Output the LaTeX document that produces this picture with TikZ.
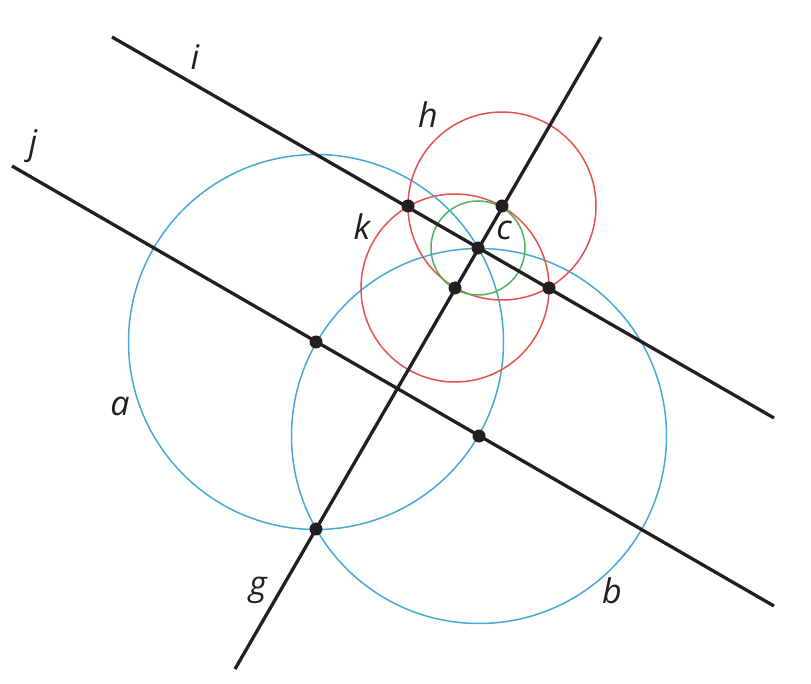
\documentclass[tikz,border=0pt]{standalone}
\usepackage{fontspec}
\setmainfont{Open Sans}
\usetikzlibrary{positioning}

\definecolor{ink}{HTML}{231F20}
\definecolor{skyblue}{HTML}{45A9D6}
\definecolor{redline}{HTML}{E8504A}
\definecolor{greenline}{HTML}{4DB45A}

\begin{document}
\begin{tikzpicture}[x=1pt,y=-1pt]
\tikzstyle{thickline}=[draw=ink,line width=3.3pt]
\tikzstyle{bluecircle}=[draw=skyblue,line width=1.5pt]
\tikzstyle{redcircle}=[draw=redline,line width=1.5pt]
\tikzstyle{greencircle}=[draw=greenline,line width=1.5pt]
\tikzstyle{dot}=[circle,fill=ink,inner sep=0pt,minimum size=13pt]
\tikzstyle{letter}=[font=\fontsize{34}{40}\selectfont\itshape,text=ink,inner sep=0pt]

\useasboundingbox (0,0) rectangle (811,684);

% free ends of the lines
\coordinate (i start) at (112,37);
\coordinate (i end) at (774,418);
\coordinate (j start) at (12,166);
\coordinate (j end) at (774,606);
\coordinate (g start) at (235,669);
\coordinate (g end) at (601,37);

% points
\coordinate (A) at (316,342);
\coordinate (B) at (479,436);
\coordinate (C) at (478,248);
\coordinate (H) at (502,206);
\coordinate (K) at (455,288);
\coordinate (P) at (408,206);
\coordinate (Q) at (549,288);
\coordinate (G) at (316,529);

% circles
\draw[bluecircle] (A) circle (187.5);
\draw[bluecircle] (B) circle (187.5);
\draw[redcircle] (H) circle (94);
\draw[redcircle] (K) circle (94);
\draw[greencircle] (C) circle (47);

% lines
\draw[thickline] (i start) -- (i end);
\draw[thickline] (j start) -- (j end);
\draw[thickline] (g start) -- (g end);

\foreach \p in {A,B,C,H,K,P,Q,G}
  \node[dot] at (\p) {};

% labels
\node[letter] (label i) at (195,57) {i};
\node[letter] (label j) at (33,146) {j};
\node[letter] (label h) at (428,115) {h};
\node[letter] (label k) at (362,227) {k};
\node[letter] (label c) at (504,230) {c};
\node[letter] (label a) at (120,406) {a};
\node[letter] (label b) at (612,591) {b};
\node[letter] (label g) at (258,590) {g};
\end{tikzpicture}
\end{document}
